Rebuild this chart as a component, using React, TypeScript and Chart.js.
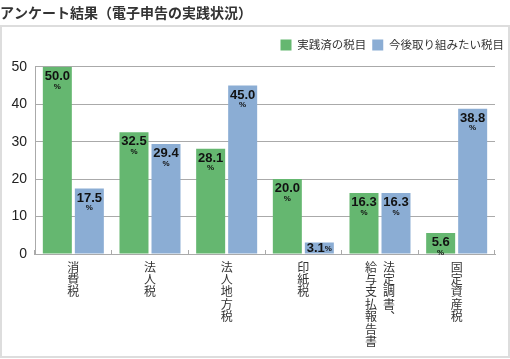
import React, { useEffect, useRef } from 'react';
import { Chart, registerables } from 'chart.js';
Chart.register(...registerables);

const titleText = 'アンケート結果（電子申告の実践状況）';
const categories = ['消費税', '法人税', '法人地方税', '印紙税', '法定調書、給与支払報告書', '固定資産税'];
// vertical tick labels (one character per line)
const tickLabels: string[][] = [
  ['消', '費', '税'],
  ['法', '人', '税'],
  ['法', '人', '地', '方', '税'],
  ['印', '紙', '税'],
  ['給\u2002法', '与\u2002定', '支\u2002調', '払\u2002書', '報\u2002︑', '告\u2002\u3000', '書\u2002\u3000'],
  ['固', '定', '資', '産', '税'],
];
const seriesNames = ['実践済の税目', '今後取り組みたい税目'];
const practiced = [50.0, 32.5, 28.1, 20.0, 16.3, 5.6];
const planned = [17.5, 29.4, 45.0, 3.1, 16.3, 38.8];
const yTicks = [0, 10, 20, 30, 40, 50];

const GREEN = '#65b770';
const BLUE = '#8badd4';
const CJK = '"Noto Sans CJK JP", "Noto Sans", sans-serif';
const LATIN = 'Arial, "Liberation Sans", sans-serif';

const framePlugin = {
  id: 'frame',
  beforeDraw(chart: any) {
    const ctx = chart.ctx;
    ctx.save();
    ctx.strokeStyle = '#dddddd';
    ctx.lineWidth = 2;
    ctx.strokeRect(1, 26, chart.width - 2, chart.height - 28);
    ctx.restore();
  },
};

const legendSpace = {
  id: 'legendSpace',
  beforeInit(chart: any) {
    const lg = chart.legend;
    if (!lg) return;
    const fit = lg.fit;
    lg.fit = function () {
      fit.call(lg);
      lg.height += 6;
    };
  },
};

const valueLabels = {
  id: 'valueLabels',
  afterDatasetsDraw(chart: any) {
    const ctx = chart.ctx;
    chart.data.datasets.forEach((ds: any, di: number) => {
      const meta = chart.getDatasetMeta(di);
      meta.data.forEach((bar: any, i: number) => {
        const v = ds.data[i] as number;
        const { x, y, base } = bar.getProps(['x', 'y', 'base'], true);
        const txt = v.toFixed(1);
        ctx.save();
        ctx.fillStyle = '#111';
        ctx.textBaseline = 'middle';
        const big = `bold 13px ${LATIN}`;
        const small = `bold 8px ${LATIN}`;
        if (base - y < 15) {
          ctx.font = big;
          const w1 = ctx.measureText(txt).width;
          ctx.font = small;
          const w2 = ctx.measureText('%').width;
          const cy = (y + base) / 2;
          const start = x - (w1 + w2) / 2;
          ctx.textAlign = 'left';
          ctx.font = big;
          ctx.fillText(txt, start, cy);
          ctx.font = small;
          ctx.fillText('%', start + w1, cy + 1);
        } else {
          ctx.textAlign = 'center';
          ctx.font = big;
          ctx.fillText(txt, x, y + 9.5);
          ctx.font = small;
          ctx.fillText('%', x, y + 19.5);
        }
        ctx.restore();
      });
    });
  },
};

export default function App() {
  const ref = useRef<HTMLCanvasElement>(null);
  useEffect(() => {
    if (!ref.current) return;
    const chart = new Chart(ref.current, {
      type: 'bar',
      data: {
        labels: tickLabels,
        datasets: [
          { label: seriesNames[0], data: practiced, backgroundColor: GREEN, categoryPercentage: 0.835, barPercentage: 0.906 },
          { label: seriesNames[1], data: planned, backgroundColor: BLUE, categoryPercentage: 0.835, barPercentage: 0.906 },
        ],
      },
      options: {
        animation: false,
        responsive: false,
        maintainAspectRatio: false,
        layout: { padding: 0 },
        plugins: {
          title: {
            display: true,
            text: titleText,
            align: 'start',
            color: '#333',
            font: { family: CJK, size: 14, weight: 'bold', lineHeight: 1.2 },
            padding: { top: 4, bottom: 12.5 },
          },
          legend: {
            display: true,
            position: 'top',
            align: 'end',
            labels: {
              boxWidth: 11,
              boxHeight: 11,
              padding: 6,
              color: '#333',
              font: { family: CJK, size: 11.5 },
            },
          },
          tooltip: { enabled: false },
        },
        scales: {
          x: {
            grid: { drawOnChartArea: false, offset: true, tickLength: -4, color: '#aaaaaa', drawTicks: true },
            border: { display: true, color: '#aaaaaa' },
            ticks: {
              padding: 11,
              color: '#333',
              font: { family: CJK, size: 12, lineHeight: 1.03 },
              maxRotation: 0,
              minRotation: 0,
              autoSkip: false,
            },
            afterFit: (s: any) => { s.height = 105; },
          },
          y: {
            min: yTicks[0],
            max: yTicks[yTicks.length - 1],
            grid: { color: '#aaaaaa', drawTicks: false },
            border: { display: true, color: '#aaaaaa' },
            ticks: {
              stepSize: 10,
              padding: 8,
              color: '#222',
              font: { family: LATIN, size: 14 },
            },
            afterFit: (s: any) => { s.width = 35; },
          },
          y2: {
            type: 'linear',
            position: 'right',
            display: true,
            grid: { display: false },
            border: { display: false },
            ticks: { display: false },
            afterFit: (s: any) => { s.width = 15; },
          },
        },
      } as any,
      plugins: [framePlugin, legendSpace, valueLabels],
    });
    return () => chart.destroy();
  }, []);
  return (
    <div style={{ position: 'fixed', left: 0, top: 0, width: 510, height: 359, background: '#fff' }}>
      <canvas ref={ref} width={510} height={359} style={{ width: 510, height: 359 }} />
    </div>
  );
}
